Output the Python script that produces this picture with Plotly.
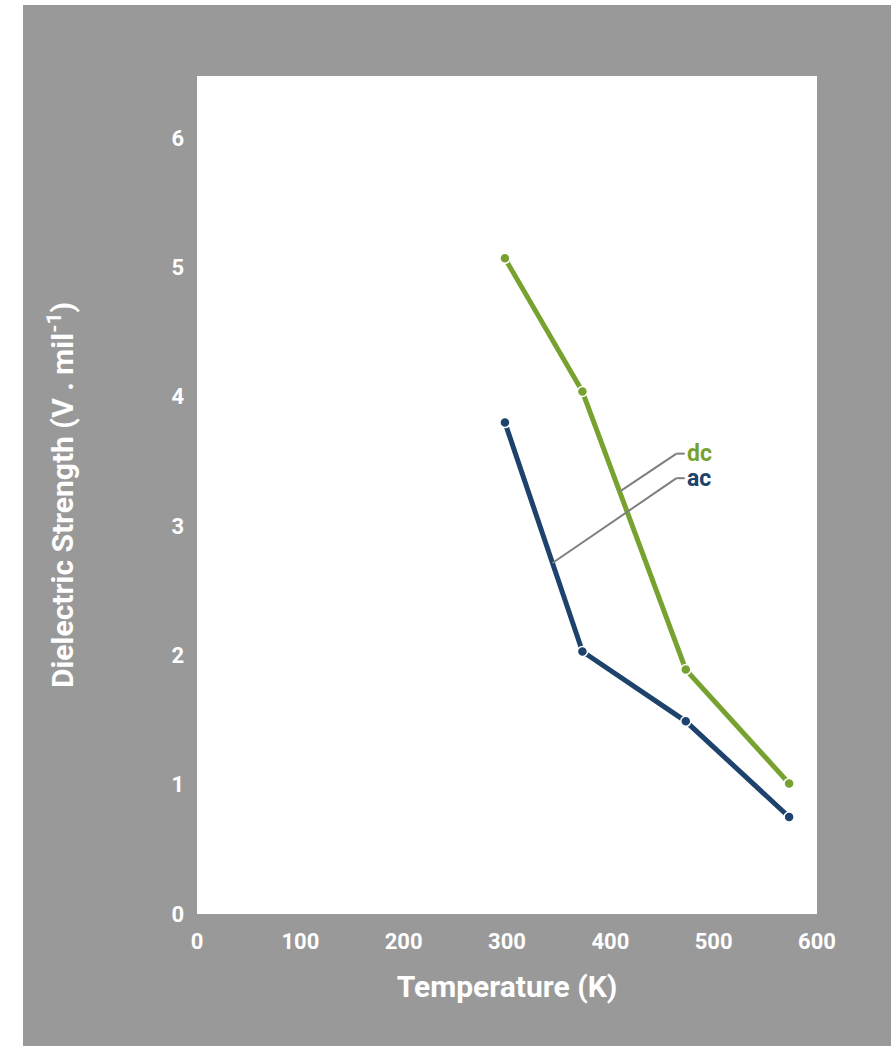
import plotly.graph_objects as go
import numpy as np

temperature = [298, 373, 473, 573]
dc_strength = [5.07, 4.04, 1.89, 1.01]
ac_strength = [3.80, 2.03, 1.49, 0.75]
x_ticks = [0, 100, 200, 300, 400, 500, 600]
y_ticks = [0, 1, 2, 3, 4, 5, 6]

GREEN = "#78a22f"
NAVY = "#1d426b"
BG = "#999999"
LEADER = "#7f7f7f"

fig = go.Figure()
fig.add_trace(go.Scatter(x=temperature, y=dc_strength, mode="lines+markers", name="dc",
                         line=dict(color=GREEN, width=5),
                         marker=dict(size=10, color=GREEN, line=dict(color="white", width=1.5))))
fig.add_trace(go.Scatter(x=temperature, y=ac_strength, mode="lines+markers", name="ac",
                         line=dict(color=NAVY, width=5),
                         marker=dict(size=10, color=NAVY, line=dict(color="white", width=1.5))))

# leader lines (start points on the series lines)
dc_x0 = 409
dc_y0 = float(np.interp(dc_x0, temperature, dc_strength))
ac_x0 = 344
ac_y0 = float(np.interp(ac_x0, temperature, ac_strength))
elbow_x, end_x = 464, 472
dc_label_y, ac_label_y = 3.56, 3.37
for (x0, y0, ly) in [(dc_x0, dc_y0, dc_label_y), (ac_x0, ac_y0, ac_label_y)]:
    fig.add_shape(type="line", x0=x0, y0=y0, x1=elbow_x, y1=ly, xref="x", yref="y",
                  line=dict(color=LEADER, width=2))
    fig.add_shape(type="line", x0=elbow_x, y0=ly, x1=end_x, y1=ly, xref="x", yref="y",
                  line=dict(color=LEADER, width=2))

fig.add_annotation(x=end_x, y=dc_label_y, text="<b>dc</b>", showarrow=False, xanchor="left",
                   xshift=0, font=dict(color=GREEN, size=23, family="Roboto"))
fig.add_annotation(x=end_x, y=ac_label_y, text="<b>ac</b>", showarrow=False, xanchor="left",
                   xshift=0, font=dict(color=NAVY, size=23, family="Roboto"))

fig.update_layout(
    width=868, height=1041,
    margin=dict(l=174, r=74, t=71, b=132),
    paper_bgcolor=BG, plot_bgcolor="white",
    showlegend=False,
    font=dict(family="Roboto", color="white"),
    xaxis=dict(range=[0, 600], tickvals=x_ticks, showgrid=False, zeroline=False,
               ticks="", tickfont=dict(size=22, color="white", family="Roboto", weight="bold"),
               ticklabelstandoff=12,
               title=dict(text="<b>Temperature (K)</b>", font=dict(size=30, color="white", family="Roboto"),
                          standoff=22)),
    yaxis=dict(range=[0, 6.48], tickvals=y_ticks, showgrid=False, zeroline=False,
               ticks="", tickfont=dict(size=22, color="white", family="Roboto", weight="bold"),
               ticklabelstandoff=12,
               title=dict(text="<b>Dielectric Strength (V . mil<sup>-1</sup>)</b>",
                          font=dict(size=30, color="white", family="Roboto"), standoff=88)),
)

fig.write_html("out.html", post_script="document.body.style.margin='5px 0 0 23px';")
